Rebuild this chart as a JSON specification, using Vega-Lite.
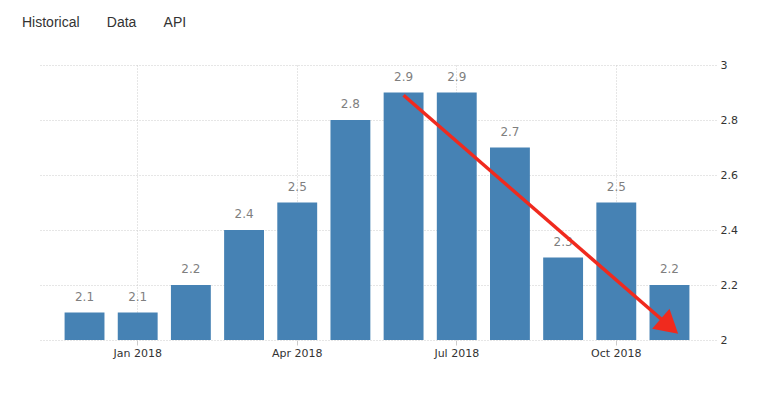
{
  "$schema": "https://vega.github.io/schema/vega-lite/v6.json",
  "width": 678,
  "height": 275,
  "autosize": {"type": "none"},
  "padding": {"left": 38, "top": 65, "right": 41, "bottom": 57},
  "background": "white",
  "title": {
    "text": "Historical\u00a0\u00a0\u00a0\u00a0\u00a0\u00a0\u00a0Data\u00a0\u00a0\u00a0\u00a0\u00a0\u00a0\u00a0API",
    "anchor": "start",
    "frame": "group",
    "dx": -16,
    "offset": 29,
    "font": "Liberation Sans",
    "fontSize": 14,
    "fontWeight": "normal",
    "color": "#333333"
  },
  "config": {"view": {"stroke": null}},
  "datasets": {
    "cpi": [
      {"month": "Dec 2017", "value": 2.1},
      {"month": "Jan 2018", "value": 2.1},
      {"month": "Feb 2018", "value": 2.2},
      {"month": "Mar 2018", "value": 2.4},
      {"month": "Apr 2018", "value": 2.5},
      {"month": "May 2018", "value": 2.8},
      {"month": "Jun 2018", "value": 2.9},
      {"month": "Jul 2018", "value": 2.9},
      {"month": "Aug 2018", "value": 2.7},
      {"month": "Sep 2018", "value": 2.3},
      {"month": "Oct 2018", "value": 2.5},
      {"month": "Nov 2018", "value": 2.2}
    ],
    "arrow": [
      {"from": "Jun 2018", "to": "Nov 2018", "start": 2.89, "end": 2.05}
    ]
  },
  "layer": [
    {
      "data": {"name": "cpi"},
      "mark": {"type": "bar", "color": "#4682b4"},
      "encoding": {
        "x": {
          "field": "month", "type": "nominal", "sort": null,
          "scale": {"paddingInner": 0.25, "paddingOuter": 0.5},
          "axis": {
            "title": null,
            "values": ["Jan 2018", "Apr 2018", "Jul 2018", "Oct 2018"],
            "labelAngle": 0,
            "domain": false,
            "ticks": true,
            "tickSize": 5,
            "tickColor": "#cccccc",
            "bandPosition": 0.5,
            "grid": true,
            "gridColor": "#cccccc",
            "gridDash": [1, 2],
            "labelFont": "DejaVu Sans",
            "labelFontSize": 11,
            "labelColor": "#333333",
            "labelPadding": 2
          }
        },
        "y": {
          "field": "value", "type": "quantitative",
          "scale": {"domain": [2, 3], "zero": false},
          "axis": {
            "orient": "right",
            "title": null,
            "values": [2, 2.2, 2.4, 2.6, 2.8, 3],
            "format": ".1~f",
            "domain": false,
            "ticks": false,
            "labelPadding": 4,
            "grid": true,
            "gridColor": "#cccccc",
            "gridDash": [1, 2],
            "labelFont": "DejaVu Sans",
            "labelFontSize": 11,
            "labelColor": "#333333"
          }
        },
        "y2": {"datum": 2}
      }
    },
    {
      "data": {"name": "cpi"},
      "mark": {"type": "text", "baseline": "bottom", "dy": -9, "font": "DejaVu Sans", "fontSize": 12, "color": "#7f7f7f"},
      "encoding": {
        "x": {"field": "month", "type": "nominal", "sort": null},
        "y": {"field": "value", "type": "quantitative"},
        "text": {"field": "value", "type": "quantitative", "format": ".1f"}
      }
    },
    {
      "data": {"name": "arrow"},
      "mark": {"type": "rule", "color": "#f02a1e", "strokeWidth": 3.5},
      "encoding": {
        "x": {"field": "from", "type": "nominal", "sort": null},
        "x2": {"field": "to"},
        "y": {"field": "start", "type": "quantitative"},
        "y2": {"field": "end"}
      }
    },
    {
      "data": {"name": "arrow"},
      "mark": {"type": "point", "shape": "triangle-right", "filled": true, "color": "#f02a1e", "opacity": 1, "size": 700, "angle": 41},
      "encoding": {
        "x": {"field": "to", "type": "nominal", "sort": null},
        "y": {"field": "end", "type": "quantitative"}
      }
    }
  ]
}
